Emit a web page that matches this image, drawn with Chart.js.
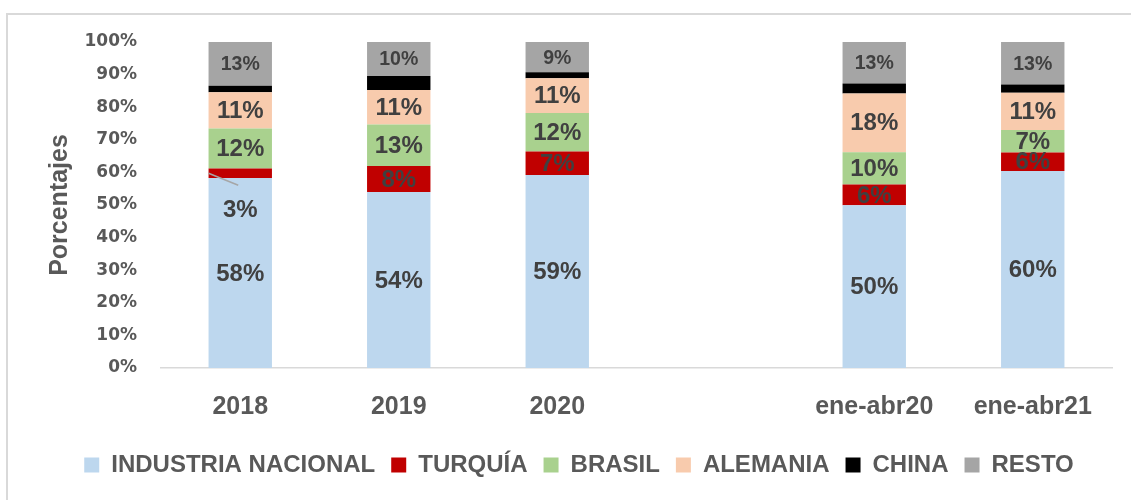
<!DOCTYPE html>
<html><head><meta charset="utf-8">
<script src="https://cdn.jsdelivr.net/npm/chart.js@4/dist/chart.umd.min.js"></script>
<style>html,body{margin:0;padding:0;background:#fff;overflow:hidden}canvas{display:block}</style>
</head><body>
<canvas id="c" width="1131" height="500"></canvas>
<script>
// ---- data ----
const categories = ['2018', '2019', '2020', '', 'ene-abr20', 'ene-abr21'];
const seriesNames = ['INDUSTRIA NACIONAL', 'TURQUÍA', 'BRASIL', 'ALEMANIA', 'CHINA', 'RESTO'];
const industriaNacional = [58.3, 54.0, 59.2, null, 49.9, 60.4];
const turquia           = [2.9, 8.0, 7.2, null, 6.4, 5.7];
const brasil            = [12.3, 12.7, 11.8, null, 9.9, 6.9];
const alemania          = [11.1, 10.6, 10.7, null, 18.0, 11.4];
const china             = [2.0, 4.3, 1.8, null, 3.1, 2.6];
const resto             = [13.4, 10.4, 9.3, null, 12.7, 13.0];
const yTickValues = [0, 10, 20, 30, 40, 50, 60, 70, 80, 90, 100];
const axisTitle = 'Porcentajes';

// ---- styles ----
const colors = ['#BDD7EE', '#C00000', '#A9D18E', '#F8CBAD', '#000000', '#A5A5A5'];
const seriesData = [industriaNacional, turquia, brasil, alemania, china, resto];
const TEXT = '#595959';
const LABEL = '#404040';

const labelPlugin = {
  id: 'segLabels',
  beforeDraw(chart) {
    const ctx = chart.ctx;
    ctx.save();
    ctx.fillStyle = '#D9D9D9';
    ctx.fillRect(6, 13, 1131, 2);
    ctx.fillRect(6, 13, 2, 500);
    ctx.restore();
  },
  afterLayout(chart) {
    const lg = chart.legend;
    if (lg) { lg.left += 23; lg.right += 23; }
  },
  afterDatasetsDraw(chart) {
    const ctx = chart.ctx;
    ctx.save();
    ctx.textAlign = 'center';
    ctx.textBaseline = 'middle';
    chart.data.datasets.forEach((ds, i) => {
      if (i === 4) return; // CHINA unlabeled
      const meta = chart.getDatasetMeta(i);
      meta.data.forEach((bar, j) => {
        const v = ds.data[j];
        if (v == null) return;
        const cy = (bar.y + bar.base) / 2;
        let ty = cy;
        ctx.font = (i === 5 ? 'bold 19.5px' : 'bold 24px') + ' "Liberation Sans", Arial, sans-serif';
        ctx.fillStyle = LABEL;
        if (i === 1 && j === 0) {
          ty = cy + 36;
          ctx.strokeStyle = '#A6A6A6';
          ctx.lineWidth = 1.5;
          ctx.beginPath();
          ctx.moveTo(bar.x - bar.width / 2, cy);
          ctx.lineTo(bar.x - 2, cy + 12);
          ctx.stroke();
        }
        ctx.fillText(Math.round(v) + '%', bar.x, ty + 1);
      });
    });
    ctx.restore();
  }
};

new Chart(document.getElementById('c'), {
  type: 'bar',
  data: {
    labels: categories,
    datasets: seriesNames.map((name, i) => ({
      label: name,
      data: seriesData[i],
      backgroundColor: colors[i],
      borderWidth: 0,
      categoryPercentage: 1,
      barPercentage: 0.4
    }))
  },
  options: {
    responsive: false,
    animation: false,
    devicePixelRatio: 1,
    layout: { padding: { top: 42, right: 19, left: 0, bottom: 13 } },
    scales: {
      x: {
        stacked: true,
        grid: { display: false, drawTicks: false },
        border: { display: true, color: '#D9D9D9', width: 1.5 },
        ticks: { color: TEXT, padding: 24, font: { family: '"Liberation Sans", Arial, sans-serif', size: 25, weight: 'bold' } },
        afterFit(scale) { scale.height = 69; }
      },
      y: {
        stacked: true,
        min: 0, max: 100,
        afterBuildTicks(scale) { scale.ticks = yTickValues.map(v => ({ value: v })); },
        grid: { display: false, drawTicks: false },
        border: { display: false },
        ticks: {
          color: TEXT, padding: 24,
          font: { family: '"DejaVu Sans", sans-serif', size: 17, weight: 'bold' },
          callback: v => v + '%'
        },
        title: {
          display: true, text: axisTitle, color: TEXT,
          font: { family: '"Liberation Sans", Arial, sans-serif', size: 25, weight: 'bold' },
          padding: { top: 45, bottom: 0 }
        },
        afterFit(scale) { scale.width = 161; }
      }
    },
    plugins: {
      legend: {
        position: 'bottom',
        labels: {
          boxWidth: 15, boxHeight: 15, padding: 16, color: TEXT,
          font: { family: '"Liberation Sans", Arial, sans-serif', size: 24, weight: 'bold' }
        }
      },
      tooltip: { enabled: false }
    }
  },
  plugins: [labelPlugin]
});
</script>
</body></html>
